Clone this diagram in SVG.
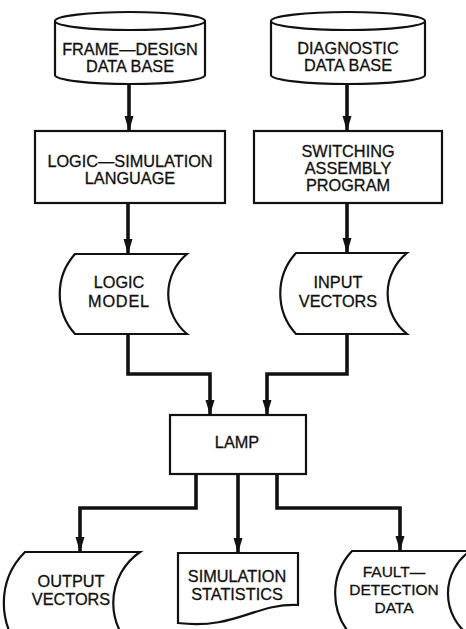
<svg xmlns="http://www.w3.org/2000/svg" width="466" height="629" viewBox="0 0 466 629">
<style>
.shape{fill:#fff;stroke:#111;stroke-width:2.2;stroke-linejoin:miter}
.lbl{font-family:"Liberation Sans",Arial,sans-serif;font-size:16.3px;fill:#111;stroke:#111;stroke-width:0.3;text-anchor:middle}
.sm{font-size:15.5px}
.conn{fill:none;stroke:#111;stroke-width:3.6;stroke-linejoin:miter;stroke-linecap:butt}
</style>
<defs>
<marker id="arr" markerUnits="userSpaceOnUse" viewBox="0 0 15 10" refX="15" refY="5" markerWidth="15" markerHeight="10" orient="auto">
<path d="M0,0.5 L15,5 L0,9.5 Z" fill="#111"/>
</marker>
</defs>
<rect width="466" height="629" fill="#fff"/>

<g id="connectors">
<path class="conn" d="M129,84 V131" marker-end="url(#arr)"/>
<path class="conn" d="M347,84 V131" marker-end="url(#arr)"/>
<path class="conn" d="M128,203 V254" marker-end="url(#arr)"/>
<path class="conn" d="M347,203 V253" marker-end="url(#arr)"/>
<path class="conn" d="M128,334 V374 H210 V415" marker-end="url(#arr)"/>
<path class="conn" d="M347,334 V374 H267 V415" marker-end="url(#arr)"/>
<path class="conn" d="M196,474 V508 H80 V552" marker-end="url(#arr)"/>
<path class="conn" d="M238,474 V553" marker-end="url(#arr)"/>
<path class="conn" d="M277,474 V508 H400 V551" marker-end="url(#arr)"/>
</g>

<g id="frame-design-db">
<path class="shape" d="M55,21 V75 A75,9 0 0 0 205,75 V21"/>
<ellipse class="shape" cx="130" cy="21" rx="75" ry="9"/>
<text class="lbl" x="130" y="55">FRAME—DESIGN</text>
<text class="lbl" x="130" y="72">DATA BASE</text>
</g>

<g id="diagnostic-db">
<path class="shape" d="M271,21 V75 A77,9 0 0 0 425,75 V21"/>
<ellipse class="shape" cx="348" cy="21" rx="77" ry="9"/>
<text class="lbl" x="348" y="54">DIAGNOSTIC</text>
<text class="lbl" x="348" y="71">DATA BASE</text>
</g>

<g id="logic-simulation-language">
<rect class="shape" x="35" y="131" width="190" height="72"/>
<text class="lbl" x="130" y="167">LOGIC—SIMULATION</text>
<text class="lbl" x="130" y="184">LANGUAGE</text>
</g>

<g id="switching-assembly-program">
<rect class="shape" x="254" y="131" width="188" height="72"/>
<text class="lbl" x="348" y="157">SWITCHING</text>
<text class="lbl" x="348" y="174">ASSEMBLY</text>
<text class="lbl" x="348" y="191">PROGRAM</text>
</g>

<g id="logic-model">
<path class="shape" d="M75,254 H187 A52,52 0 0 0 187,334 H75 A60,60 0 0 1 75,254 Z"/>
<text class="lbl" x="119" y="288">LOGIC</text>
<text class="lbl" x="119" y="307" letter-spacing="0.8">MODEL</text>
</g>

<g id="input-vectors">
<path class="shape" d="M296,253 H407 A52,52 0 0 0 407,334 H296 A60,60 0 0 1 296,253 Z"/>
<text class="lbl" x="338" y="288">INPUT</text>
<text class="lbl" x="338" y="307">VECTORS</text>
</g>

<g id="lamp">
<rect class="shape" x="170" y="415" width="136" height="59"/>
<text class="lbl" x="237" y="448">LAMP</text>
</g>

<g id="output-vectors">
<path class="shape" d="M25,552 H140 A62,62 0 0 0 140,654 H25 A72,72 0 0 1 25,552 Z"/>
<text class="lbl" x="71" y="587">OUTPUT</text>
<text class="lbl" x="71" y="605">VECTORS</text>
</g>

<g id="simulation-statistics">
<path class="shape" d="M178,553 H298 V605 C255,603 235,630 178,623 Z"/>
<text class="lbl" x="237" y="582">SIMULATION</text>
<text class="lbl" x="237" y="600">STATISTICS</text>
</g>

<g id="fault-detection-data">
<path class="shape" d="M352,551 H470 A52,52 0 0 0 470,636 H352 A62,62 0 0 1 352,551 Z"/>
<text class="lbl sm" x="394" y="577">FAULT—</text>
<text class="lbl sm" x="394" y="595">DETECTION</text>
<text class="lbl sm" x="394" y="613">DATA</text>
</g>
</svg>
